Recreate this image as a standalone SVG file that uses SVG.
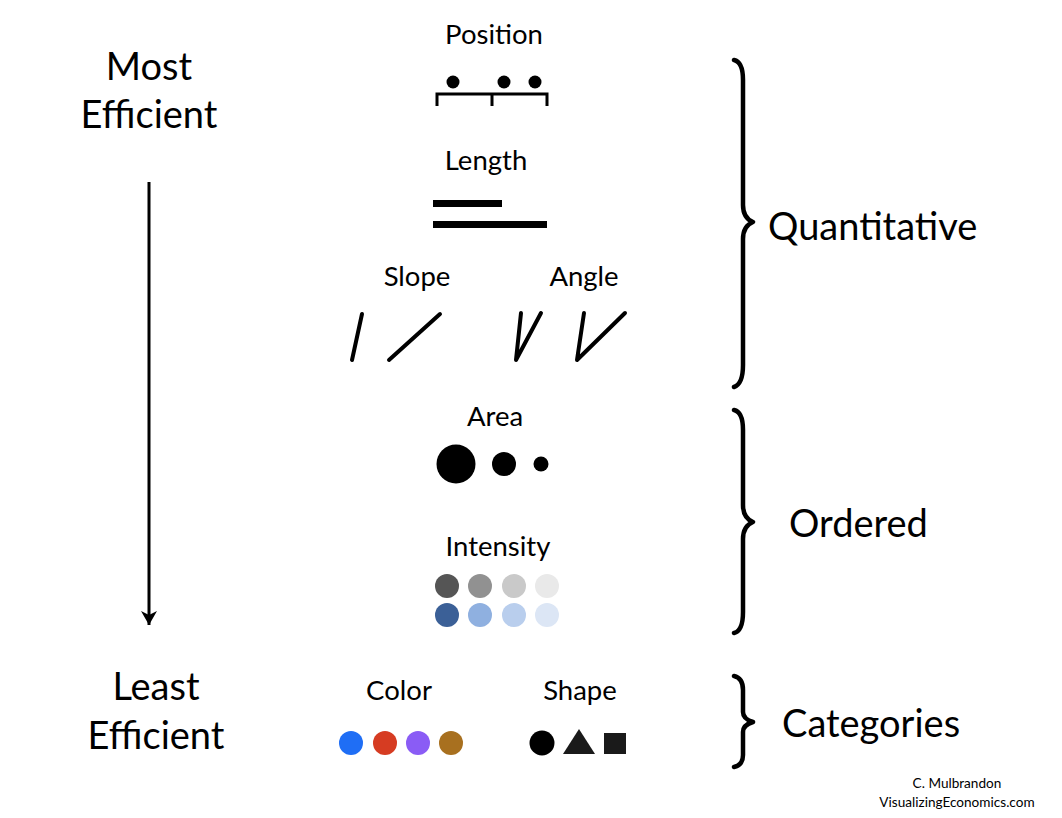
<svg xmlns="http://www.w3.org/2000/svg" width="1062" height="818" viewBox="0 0 1062 818">
<style>
.big{font-family:Lato,"Open Sans","Liberation Sans",sans-serif;font-size:38px;fill:#000}
.lbl{font-family:Lato,"Open Sans","Liberation Sans",sans-serif;font-size:27.5px;fill:#000}
.cr{font-family:Lato,"Open Sans","Liberation Sans",sans-serif;font-size:13.6px;fill:#000}
.ln{stroke:#000;stroke-width:4;stroke-linecap:round;fill:none}
.br{stroke:#000;stroke-width:4.5;stroke-linecap:round;stroke-linejoin:round;fill:none}
</style>
<defs>
<marker id="ah" viewBox="0 0 14 16" refX="14" refY="8" markerWidth="14" markerHeight="16" markerUnits="userSpaceOnUse" orient="auto">
<path d="M0,0 L14,8 L0,16 L4,8 Z" fill="#000"/>
</marker>
</defs>
<rect width="1062" height="818" fill="#fff"/>

<g id="efficiency">
<text class="big" x="149" y="80" text-anchor="middle">Most</text>
<text class="big" x="149" y="128" text-anchor="middle">Efficient</text>
<text class="big" x="156" y="700" text-anchor="middle">Least</text>
<text class="big" x="156" y="749" text-anchor="middle">Efficient</text>
</g>

<g id="connectors">
<line x1="149" y1="182" x2="149" y2="625" stroke="#000" stroke-width="3" marker-end="url(#ah)"/>
</g>

<g id="position">
<text class="lbl" x="494" y="44" text-anchor="middle">Position</text>
<circle cx="453" cy="82" r="6.5"/>
<circle cx="504" cy="82" r="6.5"/>
<circle cx="535" cy="82" r="6.5"/>
<path d="M437,106 V94 H547 V106 M492,94 V106" stroke="#000" stroke-width="3" fill="none"/>
</g>

<g id="length">
<text class="lbl" x="486" y="170" text-anchor="middle">Length</text>
<rect x="433" y="200" width="69" height="7"/>
<rect x="433" y="221" width="114" height="7"/>
</g>

<g id="slope">
<text class="lbl" x="417" y="286" text-anchor="middle">Slope</text>
<line class="ln" x1="352" y1="360" x2="362" y2="314"/>
<line class="ln" x1="389" y1="360" x2="440" y2="314"/>
</g>

<g id="angle">
<text class="lbl" x="584" y="286" text-anchor="middle">Angle</text>
<path class="ln" d="M521,313 L516,360 L541,313" stroke-linejoin="round"/>
<path class="ln" d="M584,313 L577,360 L625,313" stroke-linejoin="round"/>
</g>

<g id="area">
<text class="lbl" x="495" y="426" text-anchor="middle">Area</text>
<circle cx="456" cy="464" r="19.5"/>
<circle cx="504" cy="464" r="12"/>
<circle cx="541" cy="464" r="7.5"/>
</g>

<g id="intensity">
<text class="lbl" x="498" y="556" text-anchor="middle">Intensity</text>
<circle cx="447" cy="586" r="12" fill="#555555"/>
<circle cx="480" cy="586" r="12" fill="#919191"/>
<circle cx="514" cy="586" r="12" fill="#c9c9c9"/>
<circle cx="547" cy="586" r="12" fill="#e9e9e9"/>
<circle cx="447" cy="615" r="12" fill="#3b6097"/>
<circle cx="480" cy="615" r="12" fill="#8fb0e0"/>
<circle cx="514" cy="615" r="12" fill="#b9ceed"/>
<circle cx="547" cy="615" r="12" fill="#dce6f5"/>
</g>

<g id="color">
<text class="lbl" x="399" y="700" text-anchor="middle">Color</text>
<circle cx="351" cy="743" r="12" fill="#1f6ef5"/>
<circle cx="385" cy="743" r="12" fill="#d63c22"/>
<circle cx="418" cy="743" r="12" fill="#8a5cf5"/>
<circle cx="451" cy="743" r="12" fill="#a8701f"/>
</g>

<g id="shape">
<text class="lbl" x="580" y="700" text-anchor="middle">Shape</text>
<circle cx="542" cy="743" r="12.5" fill="#000"/>
<polygon points="579,729 595,754 563,754" fill="#1a1a1a"/>
<rect x="604" y="733" width="22" height="21" fill="#1a1a1a"/>
</g>

<g id="quantitative">
<path class="br" d="M734,60 Q743,62 743,80 L743,205 Q743,218 753,222 Q743,226 743,239 L743,365 Q743,384 734,387"/>
<text class="big" x="768" y="240">Quantitative</text>
</g>

<g id="ordered">
<path class="br" d="M734,410 Q743,412 743,430 L743,505 Q743,518 753,522 Q743,526 743,539 L743,612 Q743,631 734,633"/>
<text class="big" x="789" y="537">Ordered</text>
</g>

<g id="categories">
<path class="br" d="M734,676 Q743,678 743,690 L743,712 Q743,719 753,722 Q743,725 743,732 L743,755 Q743,765 734,767"/>
<text class="big" x="782" y="737">Categories</text>
</g>

<g id="credit">
<text class="cr" x="957" y="788" text-anchor="middle">C. Mulbrandon</text>
<text class="cr" x="957" y="807" text-anchor="middle">VisualizingEconomics.com</text>
</g>
</svg>
